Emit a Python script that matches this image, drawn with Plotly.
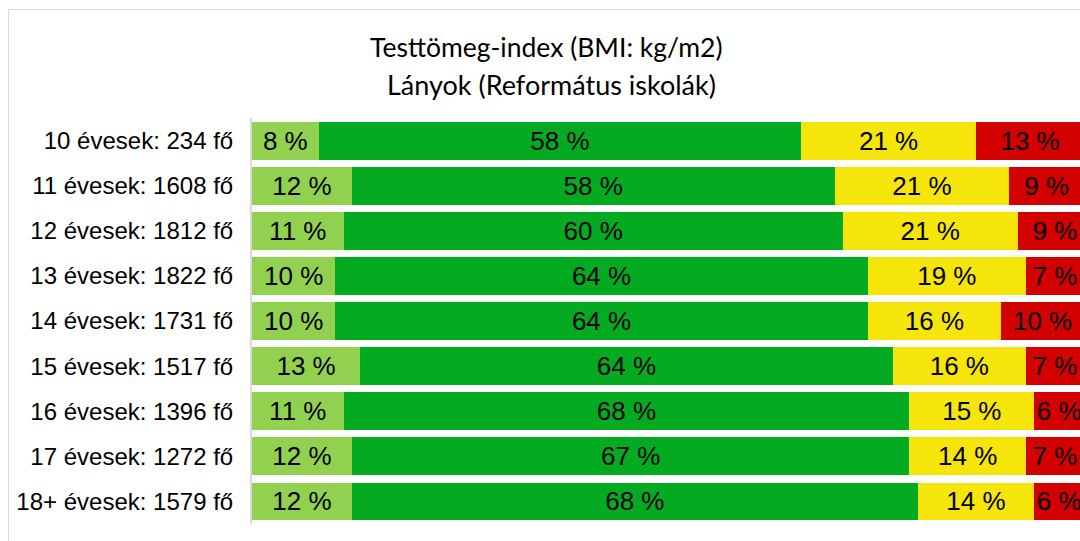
import plotly.graph_objects as go

categories = ["10 évesek: 234 fő", "11 évesek: 1608 fő", "12 évesek: 1812 fő",
              "13 évesek: 1822 fő", "14 évesek: 1731 fő", "15 évesek: 1517 fő",
              "16 évesek: 1396 fő", "17 évesek: 1272 fő", "18+ évesek: 1579 fő"]
light_green = [8, 12, 11, 10, 10, 13, 11, 12, 12]
green = [58, 58, 60, 64, 64, 64, 68, 67, 68]
yellow = [21, 21, 21, 19, 16, 16, 15, 14, 14]
red = [13, 9, 9, 7, 10, 7, 6, 7, 6]

series = [
    ("Sovány", light_green, "#92D050"),
    ("Normál", green, "#04AB21"),
    ("Túlsúlyos", yellow, "#F5E50B"),
    ("Elhízott", red, "#D30000"),
]

title1 = "Testtömeg-index (BMI: kg/m2)"
title2 = "Lányok (Református iskolák)"

fig = go.Figure()
for name, vals, col in series:
    fig.add_trace(go.Bar(
        y=categories, x=vals, orientation="h", name=name,
        marker=dict(color=col, line=dict(width=0)),
        text=[f"{v} %" for v in vals],
        textposition="inside", insidetextanchor="middle",
        textfont=dict(family="Liberation Sans, Arial", size=26, color="black"),
        cliponaxis=True,
    ))

W, H = 1080, 541
L, R, T, B = 252, 0, 118, 17
pw, ph = W - L - R, H - T - B

def px_x(x):
    return (x - L) / pw

def px_y(y):
    return (H - B - y) / ph

fig.update_layout(
    width=W, height=H,
    margin=dict(l=L, r=R, t=T, b=B),
    barmode="stack", bargap=0.16,
    showlegend=False,
    plot_bgcolor="white", paper_bgcolor="white",
    uniformtext=dict(minsize=26, mode="show"),
    xaxis=dict(range=[0, 99.5], showticklabels=False, showgrid=False,
               zeroline=False, showline=False, fixedrange=True),
    yaxis=dict(autorange="reversed", showgrid=False, zeroline=False,
               showline=True, linecolor="#D9D9D9", linewidth=2,
               ticks="", ticklabelstandoff=12,
               tickfont=dict(family="Liberation Sans, Arial", size=24, color="black")),
    shapes=[dict(type="rect", xref="paper", yref="paper",
                 x0=px_x(8.5), y0=px_y(570), x1=px_x(1110), y1=px_y(9.5),
                 line=dict(color="#D9D9D9", width=1), layer="below")],
    annotations=[
        dict(text=title1, xref="paper", yref="paper", x=px_x(546), y=px_y(47),
             showarrow=False, xanchor="center", yanchor="middle",
             font=dict(family="Lato, Open Sans", size=26.5, color="black")),
        dict(text=title2, xref="paper", yref="paper", x=px_x(551), y=px_y(84),
             showarrow=False, xanchor="center", yanchor="middle",
             font=dict(family="Lato, Open Sans", size=27, color="black")),
    ],
)

fig.write_html(
    "out.html",
    config={"displayModeBar": False},
    post_script="document.body.style.margin='0';"
                "document.documentElement.style.overflow='hidden';"
                "document.body.style.overflow='hidden';",
)
